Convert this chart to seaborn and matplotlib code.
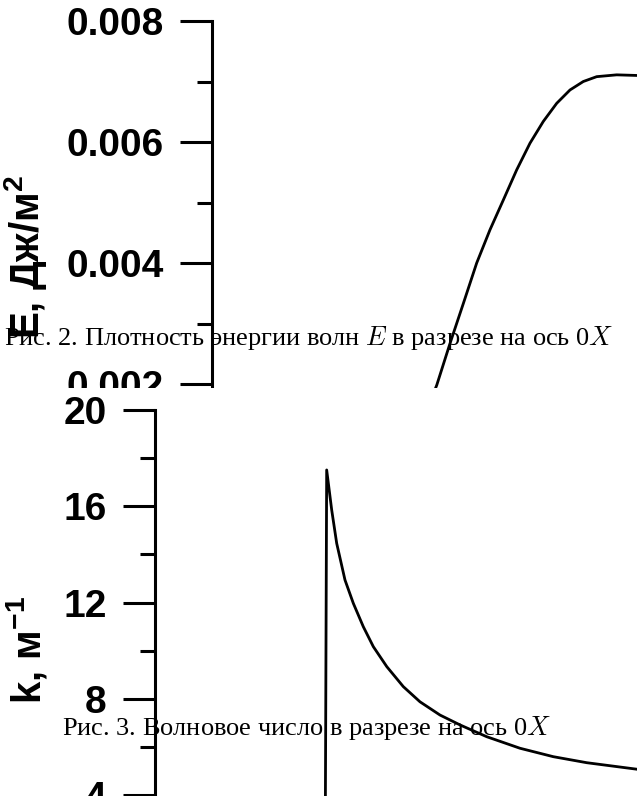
import numpy as np
import pandas as pd
import matplotlib
matplotlib.use("Agg")
import matplotlib.pyplot as plt
from matplotlib.patches import Rectangle
from matplotlib.ticker import MultipleLocator
import seaborn as sns

# ---- data ----
# Fig. 2: wave energy density E along 0X
e_x = [44.67, 46.05, 48.77, 51.50, 54.24, 56.97, 59.69, 62.44, 65.16, 67.89,
       70.64, 73.36, 76.09, 78.83, 82.93, 87.03, 89.8]
e_val = [0.0017, 0.00198, 0.00267, 0.00333, 0.00400, 0.00455, 0.00504,
         0.00554, 0.00598, 0.00634, 0.00664, 0.00686, 0.00700, 0.00708,
         0.00711, 0.00710, 0.00709]
e_ticks = [0.002, 0.004, 0.006, 0.008]
e_tick_labels = ["0.002", "0.004", "0.006", "0.008"]

# Fig. 3: wave number k along 0X
k_x = [31.2, 31.5, 32.42, 33.34, 34.86, 36.39, 38.22, 40.06, 42.53, 45.56,
       48.62, 52.29, 55.96, 60.86, 66.97, 73.08, 79.21, 88.39, 90.8]
k_val = [0.0, 17.51, 15.85, 14.46, 12.94, 11.97, 11.00, 10.17, 9.34, 8.51,
         7.88, 7.33, 6.92, 6.43, 5.95, 5.60, 5.35, 5.08, 4.98]
k_ticks = [4, 8, 12, 16, 20]
k_tick_labels = ["4", "8", "12", "16", "20"]

cap2 = "Рис. 2. Плотность энергии волн $E$ в разрезе на ось 0$X$"
cap3 = "Рис. 3. Волновое число в разрезе на ось 0$X$"
ylab_e = "Е, Дж/м$^{\\mathbf{2}}$"
ylab_k = "k, м$^{\\mathbf{-1}}$"

# ---- style ----
sns.set_style("white")
plt.rcParams["font.family"] = ["Liberation Sans", "DejaVu Sans"]
plt.rcParams["text.color"] = "black"
plt.rcParams["ytick.color"] = "black"
plt.rcParams["xtick.color"] = "black"
plt.rcParams["axes.labelcolor"] = "black"
plt.rcParams["mathtext.fontset"] = "custom"
plt.rcParams["mathtext.bf"] = "Liberation Sans:bold"
plt.rcParams["mathtext.rm"] = "Liberation Sans:bold"
plt.rcParams["mathtext.it"] = "Liberation Sans:bold"

W, H = 637, 796
DPI = 100
fig = plt.figure(figsize=(W / DPI, H / DPI), dpi=DPI)
fig.patch.set_facecolor("white")


def px_axes(left, top, right, bottom):
    return [left / W, 1 - bottom / H, (right - left) / W, (bottom - top) / H]


TICK_FS = 28
LW_SPINE = 2.2


def style_axis(ax, ticks, labels, minor):
    ax.set_facecolor("none")
    for s in ["top", "right", "bottom"]:
        ax.spines[s].set_visible(False)
    ax.spines["left"].set_linewidth(LW_SPINE)
    ax.spines["left"].set_color("black")
    ax.set_xticks([])
    ax.set_yticks(ticks)
    ax.set_yticklabels(labels, fontsize=TICK_FS, fontweight="bold",
                       color="black")
    ax.yaxis.set_minor_locator(MultipleLocator(minor))
    ax.tick_params(axis="y", which="major", length=23, width=LW_SPINE,
                   pad=12, color="black", labelcolor="black", left=True)
    ax.tick_params(axis="y", which="minor", length=11, width=LW_SPINE,
                   color="black", left=True)
    ax.set_xlabel("")
    ax.set_ylabel("")
    ax.grid(False)


# top chart (Fig. 2)
ax1 = fig.add_axes(px_axes(212, 21, 700, 21 + 4 * 121), zorder=0)
sns.lineplot(x=e_x, y=e_val, ax=ax1, color="black", lw=2.0, sort=False,
             estimator=None)
ax1.set_xlim(0, 100)
ax1.set_ylim(0, 0.008)
style_axis(ax1, e_ticks, e_tick_labels, 0.001)

# white sheet covering lower part of Fig. 2
fig.add_artist(Rectangle((0, 0), 1, (H - 388) / H, transform=fig.transFigure,
                         facecolor="white", edgecolor="none", zorder=1))

# bottom chart (Fig. 3)
ax2 = fig.add_axes(px_axes(155, 410, 700, 410 + 5 * 96.3), zorder=2)
sns.lineplot(x=k_x, y=k_val, ax=ax2, color="black", lw=2.0, sort=False,
             estimator=None)
ax2.set_xlim(0, 100)
ax2.set_ylim(0, 20)
style_axis(ax2, k_ticks, k_tick_labels, 2)

# y labels
fig.text(25.5 / W, 1 - 257 / H, ylab_e, rotation=90, ha="center", va="center",
         fontsize=29, fontweight="bold", zorder=4)
fig.text(26.5 / W, 1 - 650 / H, ylab_k, rotation=90, ha="center", va="center",
         fontsize=29, fontweight="bold", zorder=4)

# captions
fig.text(4 / W, 1 - 345 / H, cap2, ha="left", va="baseline", fontsize=19,
         family="Liberation Serif", math_fontfamily="cm", zorder=3)
fig.text(62 / W, 1 - 735 / H, cap3, ha="left", va="baseline", fontsize=19,
         family="Liberation Serif", math_fontfamily="cm", zorder=3)

fig.savefig("out.png", dpi=DPI, facecolor="white")
